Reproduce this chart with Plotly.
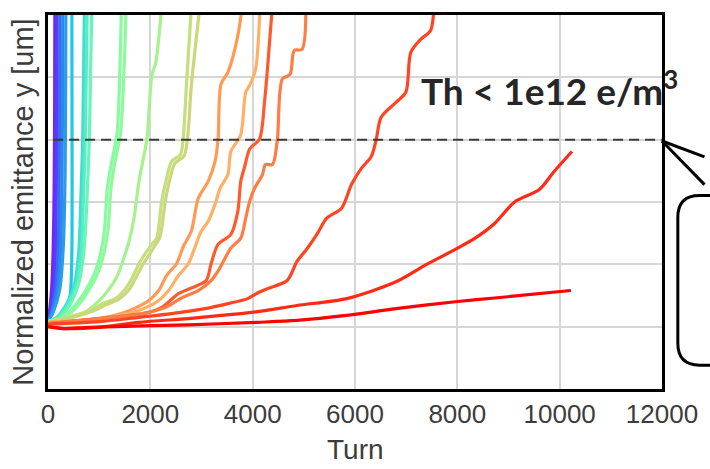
import plotly.graph_objects as go

# ---------------- data (turn, normalized emittance y) ----------------
c01_x = [0, 30, 70, 100, 120, 130, 135]
c01_y = [1.08, 1.25, 1.6, 2.2, 3.2, 4.5, 6.3]
c02_x = [0, 50, 110, 150, 165, 172, 175]
c02_y = [1.08, 1.25, 1.6, 2.3, 3.5, 5.0, 6.3]
c03_x = [0, 70, 150, 200, 220, 228, 232]
c03_y = [1.08, 1.25, 1.6, 2.3, 3.5, 5.0, 6.3]
c04_x = [0, 90, 190, 250, 275, 285, 290]
c04_y = [1.08, 1.25, 1.6, 2.3, 3.5, 5.0, 6.3]
c05_x = [0, 110, 230, 300, 335, 345, 350]
c05_y = [1.08, 1.25, 1.6, 2.3, 3.5, 5.0, 6.3]
c06_x = [0, 200, 350, 425, 460, 470, 470, 466]
c06_y = [1.08, 1.15, 1.3, 1.45, 1.9, 2.5, 4.0, 6.3]
c07_x = [0, 174, 367, 520, 600, 640, 680, 715]
c07_y = [1.08, 1.15, 1.37, 1.69, 2.2, 3.0, 4.1, 6.3]
c08_x = [0, 200, 400, 560, 650, 690, 730, 770]
c08_y = [1.08, 1.15, 1.37, 1.69, 2.2, 3.0, 4.1, 6.3]
c09_x = [0, 230, 440, 600, 700, 760, 810, 860]
c09_y = [1.08, 1.15, 1.37, 1.69, 2.2, 3.0, 4.1, 6.3]
c10_x = [0, 290, 560, 869, 1005, 1101, 1159, 1236, 1352, 1400, 1440]
c10_y = [1.08, 1.15, 1.37, 1.78, 2.1, 2.53, 3.22, 3.6, 4.12, 5.0, 6.3]
c11_x = [0, 330, 620, 930, 1070, 1170, 1230, 1300, 1420, 1480, 1535]
c11_y = [1.08, 1.15, 1.37, 1.78, 2.1, 2.53, 3.22, 3.6, 4.12, 5.0, 6.3]
c12_x = [0, 367, 676, 1005, 1333, 1526, 1584, 1681, 1777, 1932, 2029, 2106, 2240]
c12_y = [1.08, 1.13, 1.21, 1.42, 1.78, 2.21, 2.37, 2.74, 3.33, 4.01, 5.03, 5.24, 6.3]
c13_x = [0, 425, 811, 1063, 1333, 1526, 1642, 1777, 1932, 2029, 2125, 2164, 2222,
         2318, 2415, 2589, 2647, 2705, 2815]
c13_y = [1.08, 1.16, 1.26, 1.37, 1.46, 1.62, 1.78, 2.01, 2.21, 2.32, 2.42, 2.6, 3.01,
         3.38, 3.65, 3.76, 4.08, 4.87, 6.3]
c14_x = [0, 480, 880, 1130, 1400, 1590, 1700, 1840, 2000, 2090, 2180, 2230, 2290,
         2380, 2480, 2660, 2730, 2800, 2990]
c14_y = [1.08, 1.15, 1.25, 1.35, 1.45, 1.6, 1.76, 1.98, 2.18, 2.3, 2.42, 2.62, 3.0,
         3.36, 3.62, 3.74, 4.05, 4.85, 6.3]
c15_x = [0, 618, 1294, 1681, 1971, 2164, 2318, 2512, 2647, 2801, 2937, 3130, 3265,
         3323, 3381, 3516, 3710, 3820]
c15_y = [1.07, 1.10, 1.18, 1.29, 1.42, 1.58, 1.82, 2.01, 2.29, 2.53, 3.06, 3.33, 3.65,
         4.0, 4.89, 5.08, 5.67, 6.3]
c16_x = [0, 715, 1391, 1874, 2164, 2357, 2550, 2743, 2879, 2995, 3130, 3284, 3362,
         3516, 3574, 3767, 3864, 3941, 4057, 4150]
c16_y = [1.07, 1.10, 1.18, 1.29, 1.42, 1.58, 1.82, 2.01, 2.29, 2.53, 2.69, 3.01, 3.22,
         3.44, 3.81, 4.08, 4.76, 4.87, 5.13, 6.3]
c17_x = [0, 1005, 1584, 1971, 2222, 2550, 2801, 3091, 3188, 3323, 3574, 3710, 3767,
         3845, 3941, 4134, 4231, 4289, 4400]
c17_y = [1.05, 1.13, 1.18, 1.23, 1.31, 1.53, 1.62, 1.74, 2.01, 2.32, 2.48, 2.85, 3.33,
         3.57, 3.85, 4.01, 4.6, 5.13, 6.3]
c18_x = [0, 1391, 1971, 2299, 2608, 2937, 3188, 3323, 3574, 3767, 3864, 3941, 4038,
         4192, 4250, 4386, 4482, 4579, 4733, 4811, 4965, 5040]
c18_y = [1.05, 1.16, 1.23, 1.31, 1.46, 1.58, 1.74, 1.89, 2.26, 2.42, 2.74, 3.01, 3.22,
         3.44, 3.6, 3.6, 4.0, 4.97, 5.05, 5.43, 5.45, 6.3]
c19_x = [0, 1005, 1777, 2415, 3072, 3516, 3903, 4096, 4289, 4675, 4869, 5062, 5255,
         5448, 5738, 5931, 6124, 6318, 6414, 6511, 6801, 6994, 7090, 7284, 7477, 7550]
c19_y = [1.04, 1.08, 1.15, 1.21, 1.29, 1.37, 1.45, 1.54, 1.61, 1.74, 2.05, 2.25, 2.48,
         2.74, 2.9, 3.28, 3.54, 3.73, 4.0, 4.36, 4.6, 4.76, 5.4, 5.61, 5.75, 6.3]
c20_x = [0, 300, 1005, 1777, 2743, 3381, 4096, 4869, 5835, 6801, 7380, 7960, 8346,
         8733, 9119, 9602, 9892, 10240]
c20_y = [1.0, 0.97, 0.99, 1.07, 1.13, 1.18, 1.24, 1.34, 1.45, 1.72, 1.99, 2.24, 2.42,
         2.66, 3.0, 3.2, 3.49, 3.81]
c21_x = [0, 300, 811, 2743, 4096, 4869, 5835, 6801, 7960, 8733, 10220]
c21_y = [1.0, 0.97, 0.99, 1.03, 1.07, 1.10, 1.18, 1.29, 1.40, 1.46, 1.58]

curves = [
    (c01_x, c01_y, "#7a1fff"), (c02_x, c02_y, "#5040f8"), (c03_x, c03_y, "#3a6af2"),
    (c04_x, c04_y, "#2d86f0"), (c05_x, c05_y, "#2a9cec"), (c06_x, c06_y, "#1ec8e6"),
    (c07_x, c07_y, "#3de0d0"), (c08_x, c08_y, "#55eec4"), (c09_x, c09_y, "#68f5b8"),
    (c10_x, c10_y, "#86fca0"), (c11_x, c11_y, "#8ffa9c"), (c12_x, c12_y, "#a6f28c"),
    (c13_x, c13_y, "#c4e07c"), (c14_x, c14_y, "#ccd67a"), (c15_x, c15_y, "#ff9a55"),
    (c16_x, c16_y, "#ffb066"), (c17_x, c17_y, "#ff5a2c"), (c18_x, c18_y, "#ff7c42"),
    (c19_x, c19_y, "#ff4422"), (c20_x, c20_y, "#ff2a14"), (c21_x, c21_y, "#ff0000"),
]

threshold = 4.0
x_ticks = [0, 2000, 4000, 6000, 8000, 10000, 12000]

# ---------------- figure ----------------
W, H = 710, 469
ML, MR, MT, MB = 48, 41, 12, 80
PX0, PX1, PY0, PY1 = ML, W - MR, MT, H - MB


def px(x):
    return (x - PX0) / (PX1 - PX0)


def py(y):
    return (PY1 - y) / (PY1 - PY0)


fig = go.Figure()
for xs, ys, col in curves:
    fig.add_trace(go.Scatter(x=xs, y=ys, mode="lines",
                             line=dict(color=col, width=3.2, shape="spline", smoothing=0.8),
                             showlegend=False, hoverinfo="skip"))

fig.add_shape(type="line", xref="x", yref="y", x0=100, x1=12000, y0=threshold, y1=threshold,
              line=dict(color="#3a3a3a", width=2, dash="10px,6px"))

# callout bubble
fig.add_shape(type="line", xref="paper", yref="paper", x0=px(669), y0=py(139), x1=px(712), y1=py(155),
              line=dict(color="black", width=3))
fig.add_shape(type="line", xref="paper", yref="paper", x0=px(669), y0=py(139), x1=px(712), y1=py(183),
              line=dict(color="black", width=3))
r = 22
path = (f"M {px(740)},{py(194)} L {px(685 + r)},{py(194)} "
        f"Q {px(685)},{py(194)} {px(685)},{py(194 + r)} "
        f"L {px(685)},{py(365 - r)} Q {px(685)},{py(365)} {px(685 + r)},{py(365)} "
        f"L {px(740)},{py(365)}")
fig.add_shape(type="path", xref="paper", yref="paper", path=path,
              line=dict(color="black", width=3))

fig.add_annotation(text="<b>Th &lt; 1e12 e/m<sup>3</sup></b>", xref="paper", yref="paper",
                   x=px(555), y=py(86), xanchor="center", yanchor="middle", showarrow=False,
                   font=dict(family="Lato", size=37, color="#262626"))

fig.add_annotation(text="Normalized emittance y [um]", xref="paper", yref="paper",
                   x=px(23), y=py(201), xanchor="center", yanchor="middle", textangle=-90,
                   showarrow=False, font=dict(family="Liberation Sans", size=29, color="#3c3c3c"))
fig.add_annotation(text="Turn", xref="paper", yref="paper",
                   x=0.5, y=py(450), xanchor="center", yanchor="middle",
                   showarrow=False, font=dict(family="Liberation Sans", size=28, color="#3c3c3c"))

fig.update_layout(
    width=W, height=H, margin=dict(l=ML, r=MR, t=MT, b=MB),
    paper_bgcolor="white", plot_bgcolor="white",
    xaxis=dict(range=[0, 12000], tickvals=x_ticks, ticktext=[str(v) for v in x_ticks],
               showgrid=True, gridcolor="#d6d6d6", gridwidth=2, zeroline=False,
               showline=True, linecolor="black", linewidth=3, mirror=True,
               ticks="", ticklen=0,
               tickfont=dict(family="Liberation Sans", size=26, color="#3c3c3c")),
    yaxis=dict(range=[0, 6], dtick=1, showticklabels=False,
               showgrid=True, gridcolor="#d6d6d6", gridwidth=2, zeroline=False,
               showline=True, linecolor="black", linewidth=3, mirror=True),
)

fig.write_html("out.html")
